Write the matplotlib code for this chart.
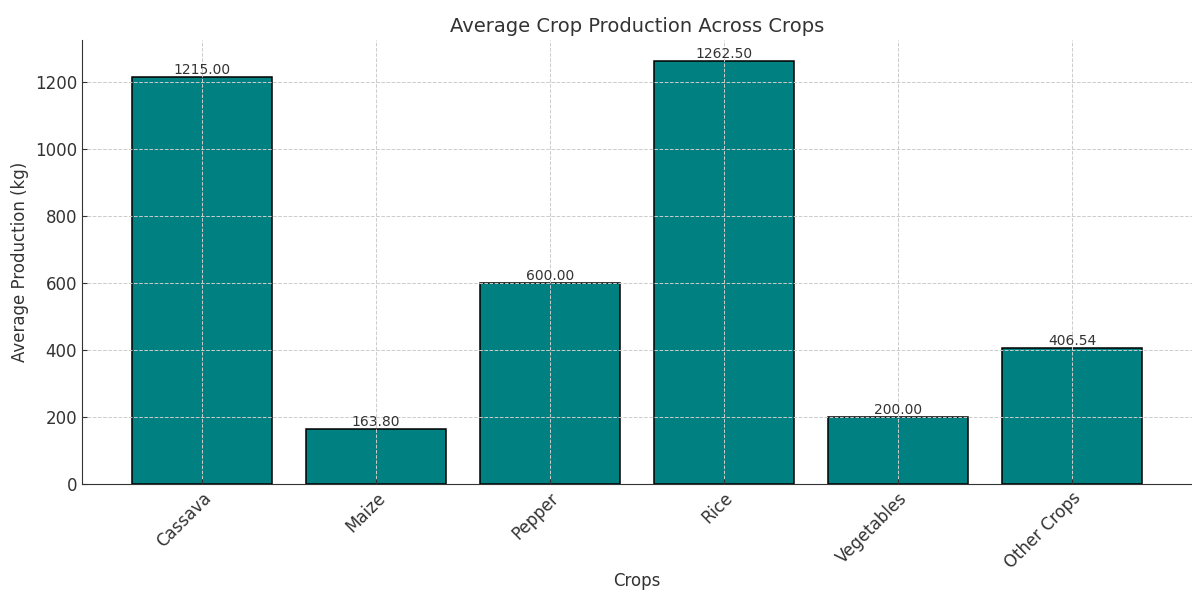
import matplotlib
matplotlib.use("Agg")
import matplotlib.pyplot as plt

crops = ['Cassava', 'Maize', 'Pepper', 'Rice', 'Vegetables', 'Other Crops']
avg_production = [1215.00, 163.80, 600.00, 1262.50, 200.00, 406.54]

txt = '#333333'
plt.rcParams['text.color'] = txt
plt.rcParams['axes.labelcolor'] = txt
plt.rcParams['xtick.color'] = txt
plt.rcParams['ytick.color'] = txt
plt.rcParams['axes.edgecolor'] = txt

fig = plt.figure(figsize=(11.92, 5.93), dpi=100)
ax = fig.add_axes([82/1192, 1 - 484/593, 1 - 82/1192, (484 - 40)/593])

bars = ax.bar(crops, avg_production, color='teal', edgecolor='black', linewidth=1.1)
for b, v in zip(bars, avg_production):
    ax.text(b.get_x() + b.get_width()/2, v, '%.2f' % v, ha='center', va='bottom', fontsize=10)

ax.set_title('Average Crop Production Across Crops', fontsize=14, pad=6)
ax.set_xlabel('Crops', fontsize=12, labelpad=0)
ax.set_ylabel('Average Production (kg)', fontsize=12)
ax.set_xticks(range(len(crops)))
ax.set_xticklabels(crops, rotation=45, ha='right', rotation_mode='anchor', fontsize=12)
ax.tick_params(axis='y', labelsize=12)
ax.tick_params(direction='in')
ax.spines['top'].set_visible(False)
ax.spines['right'].set_visible(False)
ax.grid(True, linestyle='--', color='#cccccc', linewidth=0.7)
for b in bars:
    b.set_zorder(1)

fig.savefig('out.png', dpi=100)
